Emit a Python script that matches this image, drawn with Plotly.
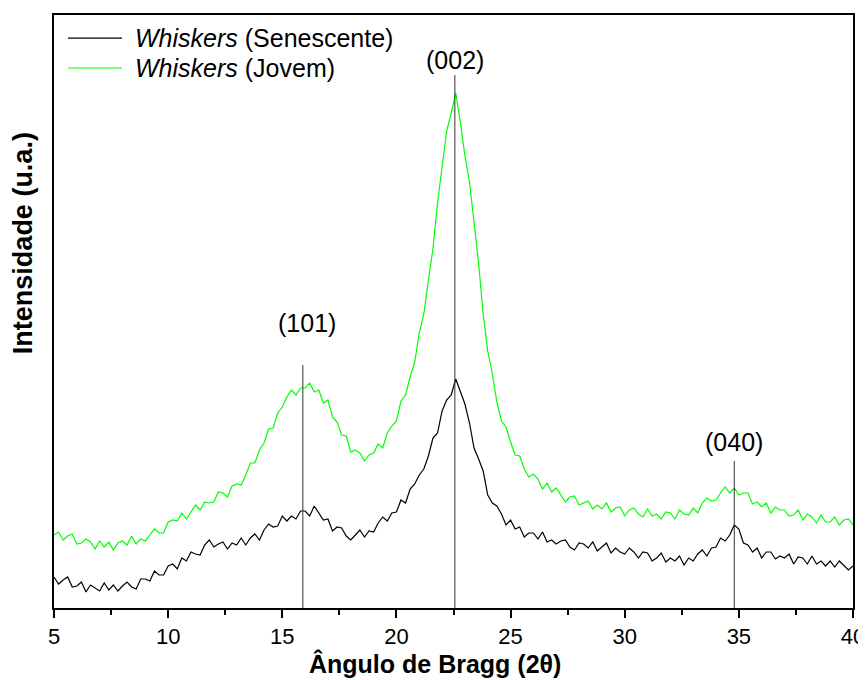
import plotly.graph_objects as go

# Sampling grid (2-theta, degrees): 5.0 to 40.0 every 0.2
two_theta = [round(5 + 0.2 * i, 1) for i in range(176)]

# Whiskers (Senescente) - intensity (arbitrary units)
senescente = [
    31, 24, 28, 31, 21, 22, 26, 16, 23, 20,
    17, 25, 18, 23, 17, 22, 26, 21, 19, 29,
    29, 27, 37, 33, 33, 42, 44, 39, 50, 47,
    56, 54, 53, 63, 68, 61, 64, 66, 59, 65,
    63, 70, 63, 70, 74, 68, 78, 84, 81, 82,
    92, 87, 92, 89, 97, 97, 92, 102, 95, 88,
    89, 77, 81, 80, 72, 68, 73, 78, 71, 77,
    76, 85, 91, 87, 95, 96, 108, 105, 119, 124,
    133, 139, 152, 170, 175, 197, 208, 213, 229, 216,
    204, 185, 160, 149, 137, 113, 105, 102, 94, 83,
    88, 79, 81, 71, 75, 75, 69, 76, 66, 68,
    64, 67, 68, 61, 58, 65, 64, 60, 66, 57,
    61, 65, 55, 60, 56, 54, 60, 56, 50, 56,
    55, 47, 50, 55, 46, 50, 47, 52, 43, 50,
    47, 54, 58, 52, 60, 61, 70, 67, 73, 83,
    79, 65, 63, 56, 60, 50, 56, 56, 49, 52,
    50, 54, 44, 51, 50, 44, 52, 44, 47, 42,
    47, 41, 47, 42, 38, 42,
]

# Whiskers (Jovem) - intensity (arbitrary units)
jovem = [
    73, 76, 68, 72, 74, 64, 65, 69, 66, 59,
    67, 61, 66, 58, 65, 67, 63, 72, 64, 69,
    67, 73, 79, 75, 75, 86, 88, 87, 95, 89,
    96, 103, 98, 106, 105, 106, 116, 115, 111, 122,
    124, 123, 133, 145, 145, 158, 165, 179, 180, 195,
    201, 211, 218, 213, 220, 220, 225, 216, 218, 205,
    208, 191, 186, 173, 172, 156, 158, 155, 147, 153,
    155, 164, 160, 175, 182, 187, 207, 213, 231, 246,
    275, 294, 328, 359, 405, 442, 477, 495, 515, 486,
    452, 426, 384, 345, 294, 257, 234, 206, 187, 181,
    166, 153, 152, 139, 131, 134, 129, 119, 125, 116,
    120, 113, 106, 111, 112, 103, 105, 107, 99, 103,
    99, 105, 96, 100, 101, 92, 98, 100, 94, 91,
    99, 92, 94, 89, 96, 95, 89, 98, 94, 93,
    100, 95, 105, 110, 107, 108, 115, 121, 115, 120,
    113, 115, 115, 104, 106, 101, 105, 95, 101, 98,
    98, 92, 93, 98, 88, 94, 91, 85, 93, 86,
    86, 91, 83, 88, 89, 83,
]

series_names = ["<i>Whiskers</i> (Senescente)", "<i>Whiskers</i> (Jovem)"]
series_colors = ["black", "#00FF00"]

# Reflection markers
peak_positions = [15.9, 22.56, 34.8]
peak_line_tops = [243, 533, 147]
peak_labels = ["(101)", "(002)", "(040)"]
label_x = [16.07, 22.56, 34.8]
label_y = [285, 548, 166]

x_ticks = [5, 10, 15, 20, 25, 30, 35, 40]

FONT = "Liberation Sans, Arial, sans-serif"

fig = go.Figure()
for yvals, name, color in zip([senescente, jovem], series_names, series_colors):
    fig.add_trace(go.Scatter(
        x=two_theta, y=yvals, mode="lines", name=name,
        line=dict(color=color, width=1.2), showlegend=False,
    ))

for px, top in zip(peak_positions, peak_line_tops):
    fig.add_shape(type="line", x0=px, x1=px, y0=0, y1=top,
                  xref="x", yref="y", line=dict(color="#333333", width=1))

for lx, ly, txt in zip(label_x, label_y, peak_labels):
    fig.add_annotation(x=lx, y=ly, text=txt, showarrow=False,
                       xref="x", yref="y", xanchor="center", yanchor="middle",
                       font=dict(family=FONT, size=25, color="black"))

# Legend (drawn in the plot's top-left corner, as in the reference)
legend_rows_y = [0.961, 0.9106]
for ry, name, color in zip(legend_rows_y, series_names, series_colors):
    fig.add_shape(type="line", xref="paper", yref="paper",
                  x0=0.0175, x1=0.0851, y0=ry, y1=ry,
                  line=dict(color=color, width=1.2))
    fig.add_annotation(x=0.0989, y=ry, xref="paper", yref="paper",
                       text=name, showarrow=False, xanchor="left", yanchor="middle",
                       font=dict(family=FONT, size=25, color="black"))

# Axis titles (placed as in the reference)
fig.add_annotation(x=0.477, y=-0.0944, xref="paper", yref="paper",
                   text="<b>Ângulo de Bragg (2θ)</b>", showarrow=False,
                   xanchor="center", yanchor="middle",
                   font=dict(family=FONT, size=25, color="black"))
fig.add_annotation(x=-0.039, y=0.615, xref="paper", yref="paper",
                   text="<b>Intensidade (u.a.)</b>", showarrow=False, textangle=-90,
                   xanchor="center", yanchor="middle",
                   font=dict(family=FONT, size=27, color="black"))

# The page body adds an 8 px offset, so the figure is sized to fit the window.
fig.update_layout(
    width=858, height=672,
    margin=dict(l=46, r=13, t=7, b=72),
    paper_bgcolor="white", plot_bgcolor="white",
    font=dict(family=FONT, color="black"),
    showlegend=False,
    xaxis=dict(
        range=[5, 40], tickvals=x_ticks, ticks="outside", ticklen=8,
        tickwidth=1.5, tickcolor="black",
        minor=dict(dtick=2.5, ticks="outside", ticklen=5, tickwidth=1.5, tickcolor="black"),
        showline=True, linecolor="black", linewidth=2, mirror=True,
        showgrid=False, zeroline=False, automargin=False,
        ticklabeloverflow="allow",
        tickfont=dict(family=FONT, size=22),
    ),
    yaxis=dict(
        range=[0, 593], showticklabels=False, ticks="",
        showline=True, linecolor="black", linewidth=2, mirror=True,
        showgrid=False, zeroline=False, automargin=False,
    ),
)

fig.write_html("out.html")
